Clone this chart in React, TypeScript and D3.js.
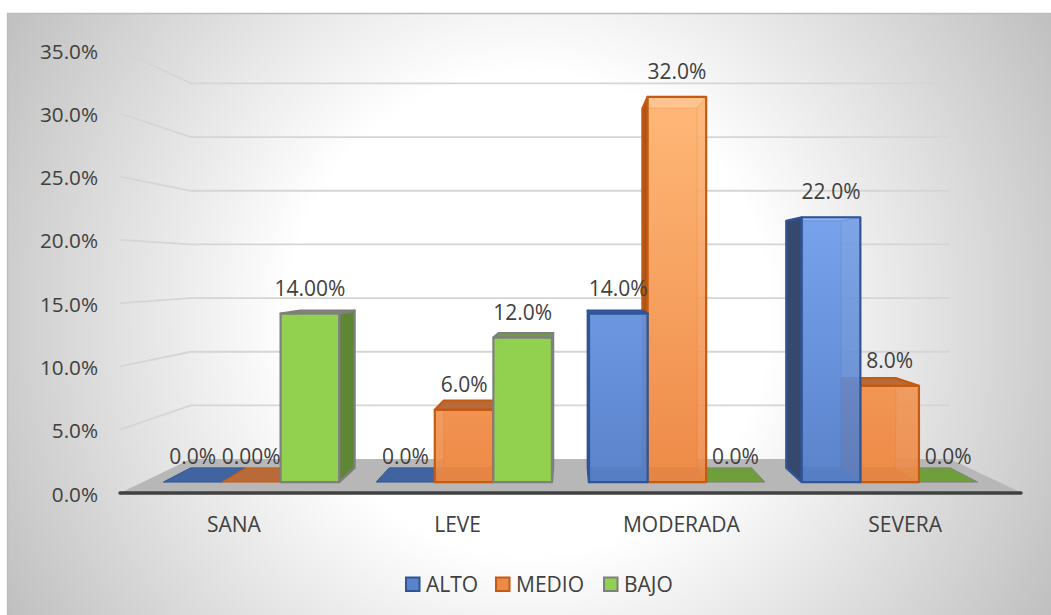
import React from "react";
import * as d3 from "d3";

const categories = ["SANA", "LEVE", "MODERADA", "SEVERA"];
const seriesNames = ["ALTO", "MEDIO", "BAJO"];
const alto = [0, 0, 14, 22];
const medio = [0, 6, 32, 8];
const bajo = [14, 12, 0, 0];
const altoLabels = ["0.0%", "0.0%", "14.0%", "22.0%"];
const medioLabels = ["0.00%", "6.0%", "32.0%", "8.0%"];
const bajoLabels = ["14.00%", "12.0%", "0.0%", "0.0%"];
const yTicks = [0, 5, 10, 15, 20, 25, 30, 35];

const W = 1051;
const H = 615;

// Perspective of the 3D plot box: everything converges on one vanishing point.
const VP = { x: 570, y: 270 };
const T_WALL = 0.152;
const T_BAR_FRONT = 0.049;
const T_BAR_BACK = 0.1126;

const y = d3.scaleLinear().domain([0, 35]).range([493, 50]);
const xGroup = d3.scaleBand<string>().domain(categories).range([123, 1018]).paddingInner(0.174).paddingOuter(0.087);
const xSeries = d3.scaleBand<string>().domain(seriesNames).range([0, xGroup.bandwidth()]);

const project = (px: number, v: number, t: number): [number, number] => [
  px * (1 - t) + VP.x * t,
  y(v) * (1 - t) + VP.y * t,
];
const poly = (pts: [number, number][]) => pts.map((p) => p.join(",")).join(" ");

const styles = [
  { stroke: "#2f5597", fill: "url(#fillAlto)", side: "#36486d", top: "#40649f", hidden: "#4a6db0", op: 0.82 },
  { stroke: "#c55a11", fill: "url(#fillMedio)", side: "#a8551c", top: "#b86a38", hidden: "#e8894a", op: 0.82 },
  { stroke: "#7f7f7f", fill: "#92d14f", side: "#5f8733", top: "#6f9f3b", hidden: "none", op: 1 },
];
const values = [alto, medio, bajo];
const labels = [altoLabels, medioLabels, bajoLabels];

type Bar = { s: number; c: number; v: number; x0: number; x1: number; label: string };
const bars: Bar[] = categories.flatMap((cat, c) =>
  seriesNames.map((name, s) => {
    const x0 = xGroup(cat)! + xSeries(name)!;
    return { s, c, v: values[s][c], x0, x1: x0 + xSeries.bandwidth(), label: labels[s][c] };
  })
);
// Painter's order: bars farthest from the vanishing point's column go first.
const paintOrder = [...bars].sort(
  (a, b) => Math.abs((b.x0 + b.x1) / 2 - VP.x) - Math.abs((a.x0 + a.x1) / 2 - VP.x)
);

function Bar3D({ b }: { b: Bar }) {
  const st = styles[b.s];
  const F = T_BAR_FRONT;
  const B = T_BAR_BACK;
  const fbl = project(b.x0, 0, F);
  const fbr = project(b.x1, 0, F);
  const ftl = project(b.x0, b.v, F);
  const ftr = project(b.x1, b.v, F);
  const bbl = project(b.x0, 0, B);
  const bbr = project(b.x1, 0, B);
  const btl = project(b.x0, b.v, B);
  const btr = project(b.x1, b.v, B);
  const common = { stroke: st.stroke, strokeWidth: 2.2, strokeLinejoin: "round" as const };

  if (b.v === 0) {
    return <polygon points={poly([fbl, fbr, bbr, bbl])} fill={st.top} stroke={st.stroke} strokeWidth={1} />;
  }
  const sideLeft = (b.x0 + b.x1) / 2 > VP.x;
  const side = sideLeft ? [fbl, ftl, btl, bbl] : [fbr, ftr, btr, bbr];
  const farSide = sideLeft ? [fbr, ftr, btr, bbr] : [fbl, ftl, btl, bbl];
  const topVisible = btl[1] < ftl[1];
  return (
    <g>
      <polygon points={poly([bbl, bbr, btr, btl])} fill={st.fill} stroke={st.stroke} strokeWidth={1.2} strokeOpacity={0.5} />
      <polygon points={poly([fbl, fbr, bbr, bbl])} fill={st.top} stroke={st.stroke} strokeWidth={1} strokeOpacity={0.5} />
      <polygon points={poly(side as [number, number][])} fill={st.side} {...common} />
      {st.op < 1 && <polygon points={poly(farSide as [number, number][])} fill={st.hidden} fillOpacity={0.5} stroke={st.stroke} strokeWidth={1} strokeOpacity={0.4} />}
      {topVisible && <polygon points={poly([ftl, ftr, btr, btl])} fill={st.top} {...common} />}
      {!topVisible && <polygon points={poly([ftl, ftr, btr, btl])} fill="none" stroke={st.stroke} strokeWidth={1.2} strokeOpacity={0.5} />}
      <polygon points={poly([fbl, fbr, ftr, ftl])} fill={st.fill} fillOpacity={st.op} {...common} />
    </g>
  );
}

const textStyle = { fontFamily: "'Open Sans', sans-serif", fontSize: 21, fill: "#404040" };

export default function App() {
  const floor: [number, number][] = [
    [120, 493],
    [1022, 493],
    project(1018, 0, T_WALL),
    project(123, 0, T_WALL),
  ];
  const legendX = [406, 496, 604];
  return (
    <svg width={W} height={H} style={{ position: "absolute", left: 0, top: 0 }}>
      <defs>
        <radialGradient id="chartBg" gradientUnits="userSpaceOnUse" cx={529} cy={314} r={600}>
          <stop offset="0" stopColor="#ffffff" />
          <stop offset="0.4" stopColor="#ffffff" />
          <stop offset="1" stopColor="#c0c0c0" />
        </radialGradient>
        <linearGradient id="fillAlto" gradientUnits="userSpaceOnUse" x1={0} y1={217} x2={0} y2={482}>
          <stop offset="0" stopColor="#78a2ec" />
          <stop offset="1" stopColor="#5a83cc" />
        </linearGradient>
        <linearGradient id="fillMedio" gradientUnits="userSpaceOnUse" x1={0} y1={97} x2={0} y2={482}>
          <stop offset="0" stopColor="#ffb878" />
          <stop offset="1" stopColor="#ee8a48" />
        </linearGradient>
      </defs>

      <rect x={7} y={13} width={W - 7} height={H - 13} fill="url(#chartBg)" />
      <line x1={7} y1={13.5} x2={W} y2={13.5} stroke="#bdbdbd" strokeWidth={1.4} />
      <line x1={7.5} y1={13} x2={7.5} y2={H} stroke="#bdbdbd" strokeWidth={1.4} />

      {yTicks.filter((t) => t > 0).map((t) => {
        const b = project(123, t, T_WALL);
        const c = project(1018, t, T_WALL);
        return (
          <polyline
            key={t}
            points={poly([[120, y(t)], [b[0], b[1]], [c[0], c[1]]])}
            fill="none"
            stroke="#d5d5d5"
            strokeWidth={1.8}
          />
        );
      })}

      <polygon points={poly(floor)} fill="#b7b7b7" />
      <line x1={120} y1={493} x2={1021} y2={493} stroke="#404040" strokeWidth={3.4} strokeLinecap="round" />

      {paintOrder.map((b) => (
        <Bar3D key={`${b.c}-${b.s}`} b={b} />
      ))}

      {bars.map((b) => (
        <text
          key={`l-${b.c}-${b.s}`}
          x={project((b.x0 + b.x1) / 2, 0, T_BAR_FRONT)[0]}
          y={project(0, b.v, T_BAR_FRONT)[1] - 26}
          textAnchor="middle"
          dominantBaseline="central"
          style={textStyle}
        >
          {b.label}
        </text>
      ))}

      {yTicks.map((t) => (
        <text key={t} x={98} y={y(t) + 0.5} textAnchor="end" dominantBaseline="central" style={{ ...textStyle, fontSize: 20.7 }}>
          {d3.format(".1f")(t)}%
        </text>
      ))}

      {categories.map((c) => (
        <text key={c} x={xGroup(c)! + xGroup.bandwidth() / 2 - 1} y={524} textAnchor="middle" dominantBaseline="central" style={textStyle}>
          {c}
        </text>
      ))}

      {seriesNames.map((name, i) => (
        <g key={name}>
          <rect
            x={legendX[i]}
            y={577.5}
            width={13.5}
            height={13.5}
            fill={i === 0 ? "#5a83cc" : i === 1 ? "#ee8a48" : "#92d14f"}
            stroke={styles[i].stroke}
            strokeWidth={2}
          />
          <text x={legendX[i] + 20} y={584} dominantBaseline="central" style={textStyle}>
            {name}
          </text>
        </g>
      ))}
    </svg>
  );
}
